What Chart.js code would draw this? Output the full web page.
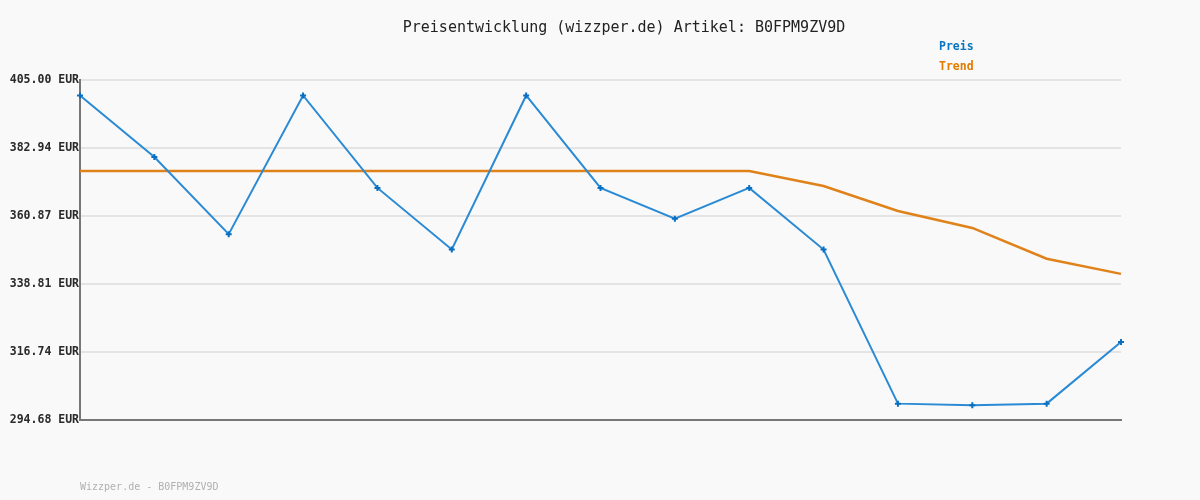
<!DOCTYPE html>
<html>
<head>
<meta charset="utf-8">
<script src="https://cdn.jsdelivr.net/npm/chart.js@4/dist/chart.umd.min.js"></script>
<style>
html,body{margin:0;padding:0;background:#f9f9f9;}
#wrap{width:1200px;height:500px;position:relative;}
</style>
</head>
<body>
<div id="wrap"><canvas id="c" width="1200" height="500"></canvas></div>
<script>
const categories = ['1','2','3','4','5','6','7','8','9','10','11','12','13','14','15'];
const preis = [399.99, 379.99, 354.99, 399.99, 369.99, 349.99, 399.99, 369.99, 359.99, 369.99, 349.99, 299.99, 299.5, 299.99, 319.99];
const trend = [375.5, 375.5, 375.5, 375.5, 375.5, 375.5, 375.5, 375.5, 375.5, 375.5, 370.6, 362.5, 357.0, 347.0, 342.1];
const yTicks = [294.68, 316.74, 338.81, 360.87, 382.94, 405.00];
const titleText = 'Preisentwicklung (wizzper.de) Artikel: B0FPM9ZV9D';
const footerText = 'Wizzper.de - B0FPM9ZV9D';
const legendItems = ['Preis', 'Trend'];
const MONO = '"DejaVu Sans Mono", "Liberation Mono", monospace';

const textPlugin = {
  id: 'texts',
  afterDraw(chart) {
    const ctx = chart.ctx;
    ctx.save();
    ctx.textBaseline = 'middle';
    ctx.textAlign = 'center';
    ctx.fillStyle = '#222222';
    ctx.font = '15px ' + MONO;
    ctx.fillText(titleText, 624, 28);
    ctx.textAlign = 'left';
    ctx.font = 'bold 11.5px ' + MONO;
    ctx.fillStyle = '#0a75c2';
    ctx.fillText(legendItems[0], 939, 47);
    ctx.fillStyle = '#e07b00';
    ctx.fillText(legendItems[1], 939, 67);
    ctx.font = '10px ' + MONO;
    ctx.fillStyle = '#b0b0b0';
    ctx.fillText(footerText, 80, 487);
    ctx.restore();
  }
};

const bgPlugin = {
  id: 'bg',
  beforeDraw(chart) {
    const ctx = chart.ctx;
    ctx.save();
    ctx.fillStyle = '#f9f9f9';
    ctx.fillRect(0, 0, chart.width, chart.height);
    ctx.restore();
  }
};

new Chart(document.getElementById('c'), {
  type: 'line',
  data: {
    labels: categories,
    datasets: [
      {
        label: 'Trend',
        data: trend,
        borderColor: '#e0821a',
        borderWidth: 2.5,
        pointRadius: 0,
        tension: 0,
        order: 2
      },
      {
        label: 'Preis',
        data: preis,
        borderColor: '#2a8ad4',
        borderWidth: 2,
        pointStyle: 'cross',
        pointRadius: 3,
        pointBorderWidth: 2,
        pointBorderColor: '#0a6fc0',
        pointBackgroundColor: '#0a6fc0',
        tension: 0,
        order: 1
      }
    ]
  },
  options: {
    responsive: false,
    animation: false,
    devicePixelRatio: 1,
    layout: { padding: { left: 0, right: 79, top: 80, bottom: 80 } },
    plugins: {
      legend: { display: false },
      title: { display: false },
      tooltip: { enabled: false }
    },
    scales: {
      x: {
        offset: false,
        ticks: { display: false },
        grid: { display: false, drawTicks: false },
        border: { display: true, color: '#777777', width: 2 },
        afterFit(scale) { scale.height = 0; }
      },
      y: {
        min: yTicks[0],
        max: yTicks[yTicks.length - 1],
        afterBuildTicks(scale) { scale.ticks = yTicks.map(v => ({ value: v })); },
        afterFit(scale) { scale.width = 80; },
        ticks: {
          padding: 1,
          color: '#2a2a2a',
          font: { family: MONO, size: 11.5, weight: 'bold' },
          callback: v => Number(v).toFixed(2) + ' EUR'
        },
        grid: { color: '#e4e4e4', lineWidth: 2, drawTicks: false },
        border: { display: true, color: '#777777', width: 2 }
      }
    }
  },
  plugins: [bgPlugin, textPlugin]
});
</script>
</body>
</html>
